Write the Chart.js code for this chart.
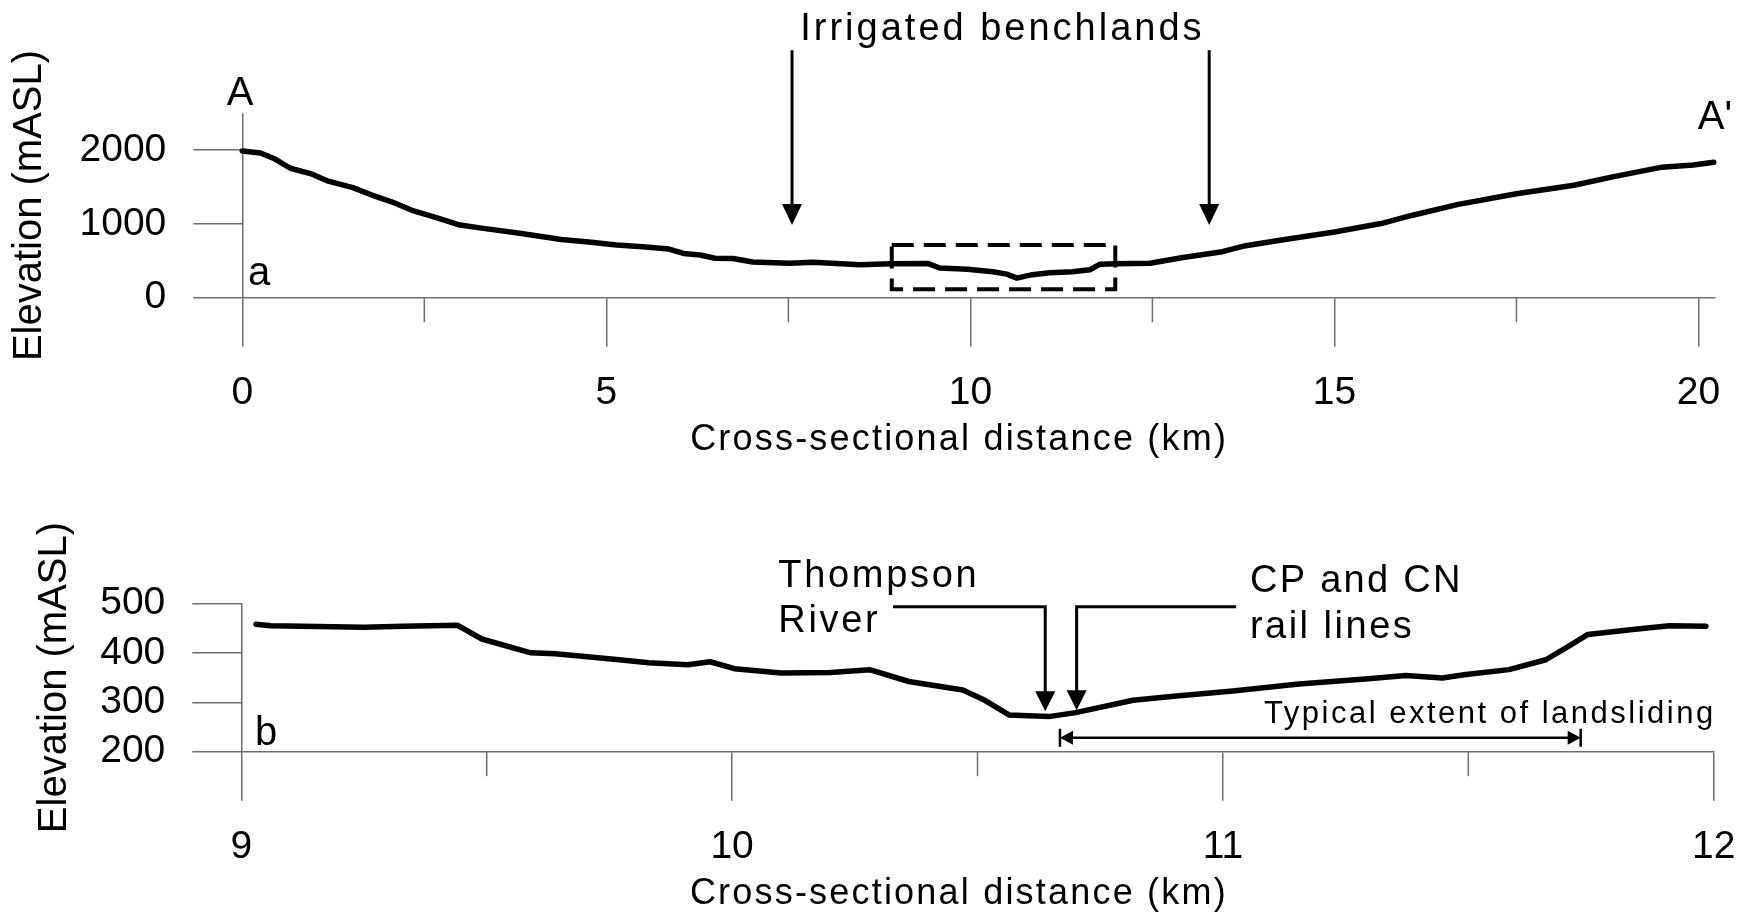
<!DOCTYPE html>
<html>
<head>
<meta charset="utf-8">
<title>Cross-section A - A'</title>
<script src="https://cdn.jsdelivr.net/npm/chart.js@4.4.1/dist/chart.umd.min.js"></script>
<style>
  html, body { margin: 0; padding: 0; background: #fff; }
  #wrap { position: relative; width: 1754px; height: 916px; }
  #wrap canvas { position: absolute; left: 0; top: 0; }
</style>
</head>
<body>
<div id="wrap">
  <canvas id="sectionChart" width="1754" height="916"></canvas>
  <canvas id="detailChart" width="1754" height="916"></canvas>
</div>
<script>
// whole profile A - A' : distance (km) and elevation (m ASL)
const sectionKm = [0, 0.25, 0.45, 0.66, 0.96, 1.18, 1.52, 1.77, 2.05, 2.33, 2.62, 2.99, 3.31, 3.81,
  4.38, 4.76, 5.14, 5.5, 5.86, 6.06, 6.29, 6.49, 6.74, 7.01, 7.52, 7.84, 8.48, 8.92, 9.42, 9.58,
  9.96, 10.31, 10.5, 10.64, 10.85, 11.09, 11.4, 11.64, 11.78, 12.0, 12.47, 12.92, 13.46, 13.78,
  14.32, 15.0, 15.64, 16.06, 16.7, 17.5, 18.29, 18.82, 19.5, 19.93, 20.21];
const sectionElev = [1990, 1962, 1880, 1755, 1675, 1580, 1492, 1395, 1300, 1185, 1098, 985, 940, 873,
  790, 755, 715, 690, 660, 600, 579, 535, 532, 485, 466, 480, 448, 460, 462, 402,
  385, 352, 320, 266, 312, 339, 352, 378, 455, 460, 466, 545, 624, 705,
  788, 890, 1005, 1115, 1265, 1410, 1525, 1638, 1770, 1800, 1835];

// close-up of the valley floor between 9 and 12 km
const detailKm = [9.03, 9.06, 9.25, 9.33, 9.44, 9.49, 9.59, 9.64, 9.77, 9.83, 9.91, 9.955, 10.005,
  10.1, 10.2, 10.28, 10.36, 10.47, 10.515, 10.565, 10.645, 10.7, 10.817, 10.9, 11.02, 11.155,
  11.29, 11.373, 11.447, 11.495, 11.583, 11.658, 11.699, 11.743, 11.835, 11.91, 11.984];
const detailElev = [458, 455, 452, 454, 456, 428, 400, 398, 386, 380, 376, 382, 368,
  359, 360, 366, 342, 325, 304, 274, 271, 279, 304, 312, 323, 337,
  347, 354, 349, 356, 366, 386, 410, 437, 447, 455, 454];

const sectionXTicks = [0, 5, 10, 15, 20];
const sectionXMinor = [2.5, 7.5, 12.5, 17.5];
const sectionYTicks = [0, 1000, 2000];
const detailXTicks = [9, 10, 11, 12];
const detailXMinor = [9.5, 10.5, 11.5];
const detailYTicks = [200, 300, 400, 500];

const FONT = '"Liberation Sans", Arial, Helvetica, sans-serif';
const AXIS = '#6e6e6e';
Chart.defaults.font.family = FONT;
Chart.defaults.color = '#000';

function drawText(ctx, text, x, y, size, spacing, align) {
  ctx.font = size + 'px ' + FONT;
  ctx.letterSpacing = (spacing || 0) + 'px';
  ctx.textAlign = align || 'left';
  ctx.textBaseline = 'alphabetic';
  ctx.fillStyle = '#000';
  ctx.fillText(text, x, y);
  ctx.letterSpacing = '0px';
}

function headDown(ctx, x, tip, len, half) {
  ctx.beginPath();
  ctx.moveTo(x, tip);
  ctx.lineTo(x - half, tip - len);
  ctx.lineTo(x + half, tip - len);
  ctx.closePath();
  ctx.fill();
}

function drawNote(ctx, n, X, Y) {
  ctx.strokeStyle = '#000';
  ctx.fillStyle = '#000';
  ctx.setLineDash([]);
  if (n.type === 'text') {
    drawText(ctx, n.text, X(n.x), Y(n.y), n.size, n.spacing, n.align);
  } else if (n.type === 'arrow') {
    const x = X(n.x), tip = Y(n.to);
    ctx.lineWidth = 3;
    ctx.beginPath();
    ctx.moveTo(x, Y(n.from));
    ctx.lineTo(x, tip - 18);
    ctx.stroke();
    headDown(ctx, x, tip, 21, 10);
  } else if (n.type === 'elbow') {
    const x0 = X(n.x0), x1 = X(n.x1), y = Y(n.y), tip = Y(n.tip);
    ctx.lineWidth = 3;
    ctx.beginPath();
    ctx.moveTo(x0, y);
    ctx.lineTo(x1, y);
    ctx.lineTo(x1, tip - 17);
    ctx.stroke();
    headDown(ctx, x1, tip, 20, 10);
  } else if (n.type === 'box') {
    ctx.lineWidth = 4;
    ctx.setLineDash([22, 10]);
    ctx.strokeRect(X(n.x0), Y(n.y1), X(n.x1) - X(n.x0), Y(n.y0) - Y(n.y1));
    ctx.setLineDash([]);
  } else if (n.type === 'span') {
    const x0 = X(n.x0), x1 = X(n.x1), y = Y(n.y);
    ctx.lineWidth = 2.5;
    ctx.beginPath();
    ctx.moveTo(x0 + 4, y);
    ctx.lineTo(x1 - 4, y);
    ctx.moveTo(x0, y - 9);
    ctx.lineTo(x0, y + 9);
    ctx.moveTo(x1, y - 9);
    ctx.lineTo(x1, y + 9);
    ctx.stroke();
    ctx.beginPath();
    ctx.moveTo(x0, y);
    ctx.lineTo(x0 + 13, y - 7);
    ctx.lineTo(x0 + 13, y + 7);
    ctx.closePath();
    ctx.moveTo(x1, y);
    ctx.lineTo(x1 - 13, y - 7);
    ctx.lineTo(x1 - 13, y + 7);
    ctx.closePath();
    ctx.fill();
  }
}

// minor ticks, x-axis title and the callouts
const extras = {
  id: 'extras',
  afterDraw(chart, args, opts) {
    const ctx = chart.ctx;
    const area = chart.chartArea;
    const X = v => chart.scales.x.getPixelForValue(v);
    const Y = v => chart.scales.y.getPixelForValue(v);
    ctx.save();
    ctx.strokeStyle = AXIS;
    ctx.lineWidth = 1.5;
    opts.minor.forEach(v => {
      ctx.beginPath();
      ctx.moveTo(X(v), area.bottom);
      ctx.lineTo(X(v), area.bottom + opts.minorLen);
      ctx.stroke();
    });
    drawText(ctx, opts.xTitle.text, X(opts.xTitle.x), area.bottom + opts.xTitle.drop, 36, 2.2, 'center');
    opts.notes.forEach(n => drawNote(ctx, n, X, Y));
    ctx.restore();
  }
};

function makeChart(id, km, elev, cfg) {
  const points = km.map((k, i) => ({ x: k, y: elev[i] }));
  return new Chart(document.getElementById(id), {
    type: 'line',
    data: {
      datasets: [{
        data: points,
        borderColor: '#000',
        borderWidth: 5.5,
        borderCapStyle: 'round',
        borderJoinStyle: 'round',
        pointRadius: 0,
        tension: 0,
        fill: false,
        clip: false
      }]
    },
    options: {
      responsive: false,
      animation: false,
      events: [],
      layout: { padding: cfg.padding },
      scales: {
        x: {
          type: 'linear',
          min: cfg.xMin,
          max: cfg.xMax,
          afterBuildTicks: s => { s.ticks = cfg.xTicks.map(v => ({ value: v })); },
          afterFit: s => { s.height = 150; s.paddingLeft = 0; s.paddingRight = 0; },
          grid: { drawOnChartArea: false, tickLength: 49, color: AXIS, lineWidth: 1.5 },
          border: { color: AXIS, width: 1.5 },
          ticks: { padding: 23, maxRotation: 0, autoSkip: false, font: { size: 39 }, color: '#000', callback: v => String(v) }
        },
        y: {
          min: cfg.yMin,
          max: cfg.yMax,
          afterBuildTicks: s => { s.ticks = cfg.yTicks.map(v => ({ value: v })); },
          afterFit: s => { s.width = cfg.padding.yWidth; s.paddingTop = 0; s.paddingBottom = 0; },
          grid: { drawOnChartArea: false, tickLength: 49, color: AXIS, lineWidth: 1.5 },
          border: { color: AXIS, width: 1.5 },
          ticks: { padding: 27, autoSkip: false, font: { size: 39 }, color: '#000', callback: v => String(v) },
          title: { display: true, text: 'Elevation (mASL)', font: { size: 40 }, color: '#000', padding: { top: cfg.yTitlePad, bottom: 0 } }
        }
      },
      plugins: {
        legend: { display: false },
        tooltip: { enabled: false },
        extras: cfg.extras
      }
    },
    plugins: [extras]
  });
}

makeChart('sectionChart', sectionKm, sectionElev, {
  xMin: 0, xMax: 20.22, yMin: 0, yMax: 2500,
  xTicks: sectionXTicks, yTicks: sectionYTicks,
  padding: { left: 0, top: 113.3, right: 39.5, bottom: 916 - 297.7 - 150, yWidth: 242.3 },
  yTitlePad: 5.5,
  extras: {
    minor: sectionXMinor,
    minorLen: 24.5,
    xTitle: { text: 'Cross-sectional distance (km)', x: 9.845, drop: 152 },
    notes: [
      { type: 'text', text: 'Irrigated benchlands', x: 10.44, y: 3494, size: 38, spacing: 3, align: 'center' },
      { type: 'arrow', x: 7.55, from: 3356, to: 986 },
      { type: 'arrow', x: 13.28, from: 3356, to: 986 },
      { type: 'box', x0: 8.92, x1: 11.99, y0: 115, y1: 715 },
      { type: 'text', text: 'A', x: -0.03, y: 2610, size: 40, align: 'center' },
      { type: 'text', text: "A'", x: 19.99, y: 2287, size: 40, align: 'left' },
      { type: 'text', text: 'a', x: 0.078, y: 172, size: 40, align: 'left' }
    ]
  }
});

makeChart('detailChart', detailKm, detailElev, {
  xMin: 9, xMax: 12, yMin: 200, yMax: 500,
  xTicks: detailXTicks, yTicks: detailYTicks,
  padding: { left: 0, top: 603.4, right: 40.3, bottom: 916 - 751.7 - 150, yWidth: 241.3 },
  yTitlePad: 30.8,
  extras: {
    minor: detailXMinor,
    minorLen: 24.5,
    xTitle: { text: 'Cross-sectional distance (km)', x: 10.462, drop: 152 },
    notes: [
      { type: 'text', text: 'Thompson', x: 10.094, y: 533, size: 38, spacing: 2.7, align: 'left' },
      { type: 'text', text: 'River', x: 10.094, y: 442, size: 38, spacing: 2.7, align: 'left' },
      { type: 'elbow', x0: 10.328, x1: 10.638, y: 493, tip: 282 },
      { type: 'elbow', x0: 11.027, x1: 10.702, y: 493, tip: 284 },
      { type: 'text', text: 'CP and CN', x: 11.055, y: 523, size: 38, spacing: 2.3, align: 'left' },
      { type: 'text', text: 'rail lines', x: 11.055, y: 430, size: 38, spacing: 2.5, align: 'left' },
      { type: 'span', x0: 10.668, x1: 11.729, y: 228 },
      { type: 'text', text: 'Typical extent of landsliding', x: 11.544, y: 258, size: 31, spacing: 2.5, align: 'center' },
      { type: 'text', text: 'b', x: 9.028, y: 214, size: 40, align: 'left' }
    ]
  }
});
</script>
</body>
</html>
